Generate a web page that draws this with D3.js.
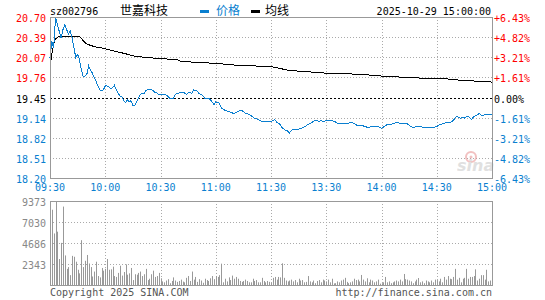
<!DOCTYPE html>
<html>
<head>
<meta charset="utf-8">
<script src="https://cdn.jsdelivr.net/npm/d3@7"></script>
<style>
  body { margin: 0; background: #fff; }
  svg { display: block; }
  text { font-family: "DejaVu Sans Mono", monospace; font-size: 10px; }
</style>
</head>
<body>
<div id="chart"></div>
<script>
// Minute data, 09:30 .. 11:30 / 13:00 .. 15:00 (241 points)
var prices = [
  20.07, 20.32, 20.22, 20.69, 20.58, 20.48, 20.38, 20.50, 20.58, 20.51,
  20.43, 20.48, 20.38, 20.22, 20.07, 20.12, 20.04, 19.88, 19.78, 19.78,
  19.81, 19.94, 19.88, 19.83, 19.76, 19.70, 19.63, 19.57, 19.56, 19.57,
  19.63, 19.63, 19.61, 19.59, 19.60, 19.64, 19.57, 19.52, 19.47, 19.46,
  19.40, 19.37, 19.42, 19.38, 19.40, 19.33, 19.33, 19.38, 19.44, 19.50,
  19.51, 19.51, 19.56, 19.57, 19.57, 19.57, 19.56, 19.53, 19.52, 19.50,
  19.50, 19.49, 19.50, 19.49, 19.47, 19.44, 19.43, 19.43, 19.50, 19.51,
  19.52, 19.52, 19.53, 19.52, 19.50, 19.52, 19.53, 19.51, 19.57, 19.56,
  19.55, 19.51, 19.50, 19.48, 19.44, 19.44, 19.44, 19.42, 19.38, 19.34,
  19.38, 19.37, 19.36, 19.29, 19.27, 19.25, 19.24, 19.23, 19.22, 19.21,
  19.20, 19.22, 19.23, 19.25, 19.25, 19.23, 19.21, 19.20, 19.19, 19.17,
  19.15, 19.13, 19.12, 19.11, 19.09, 19.08, 19.08, 19.08, 19.07, 19.07,
  19.08, 19.09, 19.11, 19.07, 19.05, 19.03, 18.98, 18.96, 18.94, 18.93,
  18.90, 18.93, 18.96, 18.95, 18.95, 18.96, 18.97, 18.98, 18.99, 19.01,
  19.03, 19.04, 19.06, 19.08, 19.10, 19.10, 19.07, 19.09, 19.08, 19.08,
  19.09, 19.10, 19.10, 19.10, 19.08, 19.07, 19.05, 19.05, 19.05, 19.05,
  19.05, 19.05, 19.05, 19.06, 19.06, 19.05, 19.03, 19.01, 19.02, 19.02,
  19.01, 19.00, 18.99, 18.98, 19.00, 19.00, 19.00, 19.00, 19.00, 18.99,
  18.97, 18.99, 19.01, 19.03, 19.03, 19.03, 19.04, 19.05, 19.06, 19.06,
  19.05, 19.05, 19.05, 19.05, 19.04, 19.02, 19.00, 18.98, 18.99, 19.00,
  19.00, 19.00, 18.99, 18.99, 18.99, 18.98, 18.99, 18.99, 18.99, 18.99,
  19.00, 19.02, 19.03, 19.04, 19.05, 19.06, 19.06, 19.06, 19.07, 19.10,
  19.13, 19.16, 19.14, 19.13, 19.14, 19.13, 19.15, 19.16, 19.13, 19.11,
  19.15, 19.17, 19.18, 19.20, 19.18, 19.17, 19.18, 19.19, 19.18, 19.19, 19.19
];

var volumes = [
  1800, 8400, 5750, 9373, 5950, 2900, 4700, 8750, 3300, 1800,
  2000, 1100, 3250, 3150, 2600, 1700, 1300, 5000, 2000, 2700,
  3350, 2400, 2000, 950, 1500, 2600, 1000, 850, 1900, 1600,
  1800, 2900, 1700, 1750, 2050, 1000, 900, 1350, 2150, 1050,
  1450, 2300, 1150, 1300, 1900, 550, 1200, 1150, 1350, 1500,
  1000, 1200, 1800, 550, 700, 1200, 1600, 900, 1000, 1350,
  750, 400, 300, 500, 650, 200, 450, 850, 500, 350,
  450, 600, 380, 300, 800, 1000, 450, 1500, 600, 900,
  350, 650, 500, 250, 700, 550, 450, 750, 1000, 650,
  1000, 900, 1100, 2380, 300, 700, 400, 850, 550, 1050,
  700, 900, 700, 450, 350, 450, 600, 450, 300, 300,
  700, 450, 550, 300, 300, 800, 450, 300, 450, 350,
  250, 800, 900, 600, 900, 850, 2420, 800, 500, 400,
  500, 600, 400, 550, 300, 700, 500, 550, 300, 350,
  1000, 400, 300, 500, 200, 450, 550, 300, 600, 500,
  400, 600, 300, 700, 180, 200, 400, 300, 500, 600,
  800, 350, 200, 300, 400, 700, 550, 600, 400, 1120,
  600, 400, 750, 300, 600, 500, 300, 400, 600, 150,
  200, 300, 900, 300, 400, 200, 300, 400, 500, 400,
  600, 400, 1230, 650, 600, 500, 400, 200, 400, 600,
  780, 300, 400, 200, 500, 400, 300, 500, 300, 600,
  550, 400, 700, 300, 900, 600, 1000, 700, 650, 900,
  1800, 600, 800, 300, 700, 800, 1800, 700, 900, 900,
  1000, 1750, 500, 700, 1100, 1100, 600, 1700, 400, 500, 800
];

// average price line, read at these minutes
var avgMinutes = [0, 1, 2, 3, 5, 16, 19, 21, 24, 28, 32, 35, 41, 46, 53, 62, 69, 71, 90, 102, 120, 130, 149, 169, 181, 202, 215, 222, 240];
var avgValues = [19.94, 20.12, 20.28, 20.36, 20.40, 20.40, 20.30, 20.27, 20.24, 20.22, 20.19, 20.17, 20.13, 20.09, 20.07, 20.05, 20.04, 20.01, 19.98, 19.95, 19.93, 19.87, 19.83, 19.81, 19.78, 19.75, 19.74, 19.72, 19.69];

var prevClose = 19.45;
var pctTicks = [6.43, 4.82, 3.21, 1.61, 0, -1.61, -3.21, -4.82, -6.43];
var priceLabels = ["20.70", "20.39", "20.07", "19.76", "19.45", "19.14", "18.82", "18.51", "18.20"];
var pctLabels = ["+6.43%", "+4.82%", "+3.21%", "+1.61%", "0.00%", "-1.61%", "-3.21%", "-4.82%", "-6.43%"];
var volTicks = [9373, 7030, 4686, 2343];
var timeMinutes = [0, 30, 60, 90, 120, 150, 180, 210, 240];
var timeLabels = ["09:30", "10:00", "10:30", "11:00", "11:30", "13:30", "14:00", "14:30", "15:00"];

var RED = "#ff0000", BLUE = "#0a7fd0", GRID = "#aaaaaa", BORDER = "#999999";

var svg = d3.select("#chart").append("svg")
  .attr("width", 545)
  .attr("height", 300);

var x = d3.scaleLinear().domain([0, 240]).range([50, 492]);
var yP = d3.scaleLinear().domain([18.20, 20.70]).range([178, 17]);
var yV = d3.scaleLinear().domain([0, 9373]).range([285, 201]);

function px(v) { return Math.round(v) + 0.5; }
function tickColor(p) { return p > 0 ? RED : (p < 0 ? BLUE : "#000"); }

// price panel grid
pctTicks.forEach(function (p, i) {
  var y = px(yP(prevClose * (1 + p / 100)));
  if (p !== 0 && i > 0 && i < pctTicks.length - 1) {
    svg.append("line").attr("x1", 50).attr("x2", 492).attr("y1", y).attr("y2", y)
      .attr("stroke", GRID).attr("stroke-dasharray", "1,2");
  }
  svg.append("text").attr("x", 46).attr("y", y + 4).attr("text-anchor", "end")
    .attr("fill", tickColor(p)).text(priceLabels[i]);
  svg.append("text").attr("x", 494).attr("y", y + 4)
    .attr("fill", tickColor(p)).text(pctLabels[i]);
});

timeMinutes.forEach(function (m, i) {
  var xx = px(x(m));
  if (i > 0 && i < timeMinutes.length - 1) {
    svg.append("line").attr("x1", xx).attr("x2", xx).attr("y1", 17).attr("y2", 178)
      .attr("stroke", GRID).attr("stroke-dasharray", "1,2");
    svg.append("line").attr("x1", xx).attr("x2", xx).attr("y1", 201).attr("y2", 285)
      .attr("stroke", GRID).attr("stroke-dasharray", "1,2");
  }
  svg.append("text").attr("x", x(m)).attr("y", 191).attr("text-anchor", "middle")
    .attr("fill", BLUE).text(timeLabels[i]);
});

// volume panel grid
volTicks.forEach(function (v, i) {
  var y = px(yV(v));
  if (i > 0) {
    svg.append("line").attr("x1", 50).attr("x2", 492).attr("y1", y).attr("y2", y)
      .attr("stroke", GRID).attr("stroke-dasharray", "1,2");
  }
  svg.append("text").attr("x", 46).attr("y", y + 4).attr("text-anchor", "end")
    .attr("fill", "#888").text(v);
});

// watermark
var wm = svg.append("g").attr("opacity", 0.55);
wm.append("circle").attr("cx", 471).attr("cy", 157).attr("r", 5)
  .attr("fill", "none").attr("stroke", "#e89090").attr("stroke-width", 2);
wm.append("circle").attr("cx", 471).attr("cy", 157).attr("r", 1.5).attr("fill", "#e89090");
wm.append("text").attr("x", 457).attr("y", 171)
  .style("font-family", "'DejaVu Sans', sans-serif").style("font-size", "16px")
  .style("font-weight", "bold").style("font-style", "italic")
  .attr("fill", "#c8c8c8").text("sina");

// prev close line
svg.append("line").attr("x1", 50).attr("x2", 492)
  .attr("y1", px(yP(prevClose))).attr("y2", px(yP(prevClose)))
  .attr("stroke", "#000").attr("stroke-dasharray", "2,2");

// volume bars
svg.append("g").selectAll("rect").data(volumes).enter().append("rect")
  .attr("x", function (d, i) { return Math.round(x(i)); })
  .attr("y", function (d) { return yV(d); })
  .attr("width", 1)
  .attr("height", function (d) { return 285 - yV(d); })
  .attr("fill", "#999");

// average line
var avgLine = d3.line()
  .x(function (d, i) { return x(avgMinutes[i]); })
  .y(function (d) { return yP(d); });
svg.append("path").datum(avgValues).attr("d", avgLine)
  .attr("fill", "none").attr("stroke", "#000").attr("stroke-width", 1)
  .attr("shape-rendering", "crispEdges");

// price line
var priceLine = d3.line()
  .x(function (d, i) { return x(i); })
  .y(function (d) { return yP(d); });
svg.append("path").datum(prices).attr("d", priceLine)
  .attr("fill", "none").attr("stroke", BLUE).attr("stroke-width", 1)
  .attr("shape-rendering", "crispEdges");

// borders
svg.append("rect").attr("x", 50.5).attr("y", 17.5).attr("width", 442).attr("height", 161)
  .attr("fill", "none").attr("stroke", BORDER);
svg.append("rect").attr("x", 50.5).attr("y", 201.5).attr("width", 442).attr("height", 84)
  .attr("fill", "none").attr("stroke", BORDER);

// header
svg.append("text").attr("x", 50).attr("y", 15).attr("fill", "#000").text("sz002796");
svg.append("text").attr("x", 144).attr("y", 15).attr("text-anchor", "middle")
  .style("font-family", "'Noto Sans CJK SC', sans-serif").style("font-size", "12px")
  .attr("fill", "#000").text("世嘉科技");
svg.append("rect").attr("x", 200).attr("y", 10).attr("width", 9).attr("height", 3).attr("fill", BLUE);
svg.append("text").attr("x", 216).attr("y", 15)
  .style("font-family", "'Noto Sans CJK SC', sans-serif").style("font-size", "12px")
  .attr("fill", BLUE).text("价格");
svg.append("rect").attr("x", 251).attr("y", 10).attr("width", 9).attr("height", 3).attr("fill", "#000");
svg.append("text").attr("x", 265).attr("y", 15)
  .style("font-family", "'Noto Sans CJK SC', sans-serif").style("font-size", "12px")
  .attr("fill", "#000").text("均线");
svg.append("text").attr("x", 491).attr("y", 15).attr("text-anchor", "end")
  .attr("fill", "#000").text("2025-10-29 15:00:00");

// footer
svg.append("text").attr("x", 50).attr("y", 296).attr("fill", "#555").text("Copyright 2025 SINA.COM");
svg.append("text").attr("x", 492).attr("y", 296).attr("text-anchor", "end")
  .attr("fill", "#555").text("http://finance.sina.com.cn");
</script>
</body>
</html>
